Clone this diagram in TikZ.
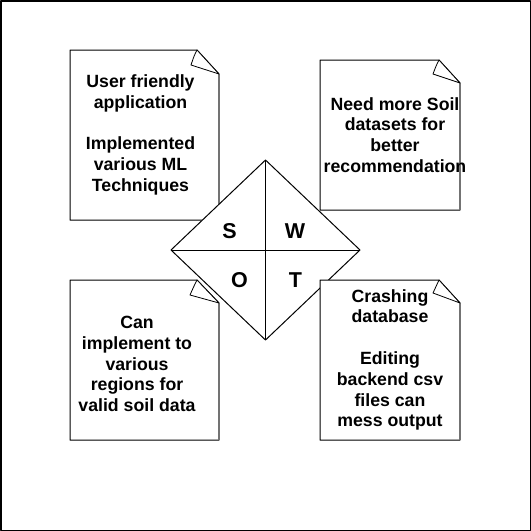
\documentclass[tikz,border=0pt]{standalone}
\usepackage{fontspec}
\setmainfont{Liberation Sans}
\usetikzlibrary{shapes.geometric}

\begin{document}
\begin{tikzpicture}[x=1pt, y=-1pt, line join=round,
      page/.style={draw=black, fill=white, line width=1pt},
      fold/.style={draw=black, fill=white, line width=0.8pt},
      rim/.style={draw=black!55, line width=1.6pt},
      memo/.style={align=center, font=\fontsize{17.7}{20.8}\selectfont\bfseries, inner sep=0pt},
      quad/.style={diamond, draw=black, fill=white, line width=1pt, minimum width=189pt, minimum height=180pt, inner sep=0pt, outer sep=0pt},
      letter/.style={font=\fontsize{21.5}{21.5}\selectfont\bfseries, inner sep=0pt}]
    \useasboundingbox (0,0) rectangle (531,531);
    \draw[line width=1.5pt] (0.75,0.75) rectangle (530.25,530.25);
    % strengths
    \draw[page] (70,50) -- (197,50) -- (219,74) -- (219,220) -- (70,220) -- cycle;
    \draw[rim] (219,74) -- (219,220);
    \draw[fold] (197,50) .. controls (194,56) .. (191,65) -- (219,74) -- cycle;
    \node[memo] (strength) at (140.5,135) {User friendly\\ application\\[20.8pt] Implemented\\ various ML\\ Techniques};
    % weaknesses
    \draw[page] (320,60) -- (439,60) -- (460,83) -- (460,210) -- (320,210) -- cycle;
    \draw[rim] (460,83) -- (460,210);
    \draw[fold] (439,60) .. controls (436,66) .. (433,74) -- (460,83) -- cycle;
    \node[memo] (weakness) at (395,135) {Need more Soil\\ datasets for\\ better\\ recommendation};
    % swot quadrants
    \node[quad] (swot) at (265.5,250) {};
    \draw[line width=1pt] (swot.north) -- (swot.south);
    \draw[line width=1pt] (swot.west) -- (swot.east);
    \node[letter] (s) at (229.5,231) {S};
    \node[letter] (w) at (295,231) {W};
    \node[letter] (o) at (239.5,280) {O};
    \node[letter] (t) at (295.5,280) {T};
    % opportunities
    \draw[page] (70,280) -- (197,280) -- (219,303) -- (219,440) -- (70,440) -- cycle;
    \draw[rim] (219,303) -- (219,440);
    \draw[fold] (197,280) .. controls (194,286) .. (190,295) -- (219,303) -- cycle;
    \node[memo] (opportunity) at (137,364) {Can\\ implement to\\ various\\ regions for\\ valid soil data};
    % threats
    \draw[page] (320,280) -- (439,280) -- (460,303) -- (460,440) -- (320,440) -- cycle;
    \draw[rim] (460,303) -- (460,440);
    \draw[fold] (439,280) .. controls (436,286) .. (433,293) -- (460,303) -- cycle;
    \node[memo] (threat) at (390,360) {Crashing\\ database\\[20.8pt] Editing\\ backend csv\\ files can\\ mess output};
  \end{tikzpicture}
\end{document}
